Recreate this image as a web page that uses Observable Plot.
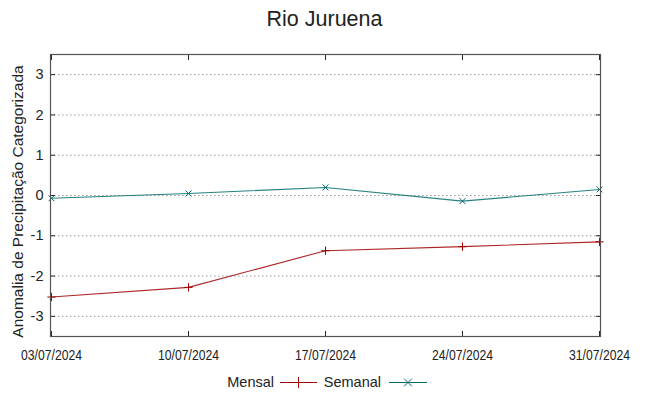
<!DOCTYPE html>
<html>
<head>
<meta charset="utf-8">
<script src="https://cdn.jsdelivr.net/npm/d3@7"></script>
<script src="https://cdn.jsdelivr.net/npm/@observablehq/plot@0.6"></script>
<style>
  html, body { margin: 0; padding: 0; background: #fff; }
  #wrap { position: relative; width: 649px; height: 396px; font-family: "Liberation Sans", Arial, sans-serif; color: #222; }
  #title { position: absolute; left: 0; top: 7px; width: 649px; text-align: center; font-size: 21.5px; line-height: 24px; }
  #chart { position: absolute; left: 0; top: 40px; }
  #legend { position: absolute; left: 0; top: 372px; width: 649px; height: 20px; }
</style>
</head>
<body>
<div id="wrap">
  <div id="title">Rio Juruena</div>
  <div id="chart"></div>
  <svg id="legend" width="649" height="20"></svg>
</div>
<script>
const title = "Rio Juruena";
const yLabel = "Anomalia de Precipitação Categorizada";
const dates = ["03/07/2024", "10/07/2024", "17/07/2024", "24/07/2024", "31/07/2024"];
const mensal = [-2.52, -2.28, -1.37, -1.27, -1.15];
const semanal = [-0.07, 0.05, 0.20, -0.14, 0.15];
const yTicks = [-3, -2, -1, 0, 1, 2, 3];
const seriesNames = ["Mensal", "Semanal"];
const seriesColors = ["#a00000", "#006b6b"];
const seriesSymbols = ["plus", "times"];

const rows = [];
dates.forEach((d, i) => {
  rows.push({date: d, value: mensal[i], serie: "Mensal"});
  rows.push({date: d, value: semanal[i], serie: "Semanal"});
});

const fontMain = "'Liberation Sans', Arial, sans-serif";

const chart = Plot.plot({
  width: 649,
  height: 328,
  marginTop: 14,
  marginBottom: 32,
  marginLeft: 50,
  marginRight: 49,
  style: {fontFamily: fontMain, background: "transparent", color: "#222", overflow: "visible"},
  x: {type: "point", domain: dates, padding: 0},
  y: {domain: [-3.5, 3.5]},
  color: {domain: seriesNames, range: seriesColors},
  symbol: {domain: seriesNames, range: seriesSymbols},
  marks: [
    Plot.gridY(yTicks, {stroke: "#999", strokeOpacity: 1, strokeWidth: 1, strokeDasharray: "1.5,2.5"}),
    Plot.axisY(yTicks, {anchor: "left", tickSize: -5, tickPadding: 12, fontSize: 14.5, label: null, tickFormat: d => String(d)}),
    Plot.axisY(yTicks, {anchor: "right", tickSize: -5, tickFormat: () => "", label: null}),
    Plot.axisX(dates, {anchor: "bottom", tickSize: -5, tickPadding: 18, fontSize: 14.5, label: null}),
    Plot.axisX(dates, {anchor: "top", tickSize: -5, tickFormat: () => "", label: null}),
    Plot.text([yLabel], {frameAnchor: "left", textAnchor: "middle", rotate: -90, dx: -32, dy: 6, fontSize: 15.5, fill: "#222"}),
    Plot.line(rows, {x: "date", y: "value", z: "serie", stroke: "serie", strokeWidth: 1.1, strokeOpacity: 0.85}),
    Plot.dot(rows, {x: "date", y: "value", stroke: "serie", symbol: "serie", r: 2.8, strokeWidth: 1}),
    Plot.frame({stroke: "#555", strokeWidth: 1.2})
  ]
});
document.getElementById("chart").appendChild(chart);

// Narrow the x tick labels to match the condensed look of the reference
d3.select(chart).selectAll('g[aria-label="x-axis tick label"] text')
  .attr("textLength", 61).attr("lengthAdjust", "spacingAndGlyphs");

// Legend below the chart
const leg = d3.select("#legend");
const items = [
  {name: seriesNames[0], color: seriesColors[0], symbol: d3.symbolPlus, textRight: 274, x0: 280, x1: 317},
  {name: seriesNames[1], color: seriesColors[1], symbol: d3.symbolTimes, textRight: 381, x0: 389, x1: 427}
];
items.forEach(it => {
  leg.append("text").attr("x", it.textRight).attr("y", 15).attr("text-anchor", "end")
    .attr("font-family", fontMain).attr("font-size", 14.5).attr("fill", "#222").text(it.name);
  leg.append("line").attr("x1", it.x0).attr("x2", it.x1).attr("y1", 10.5).attr("y2", 10.5)
    .attr("stroke", it.color).attr("stroke-width", 1.1);
  leg.append("path").attr("d", d3.symbol(it.symbol, 40)())
    .attr("transform", `translate(${(it.x0 + it.x1) / 2},10.5)`)
    .attr("fill", "none").attr("stroke", it.color).attr("stroke-width", 1);
});
</script>
</body>
</html>
